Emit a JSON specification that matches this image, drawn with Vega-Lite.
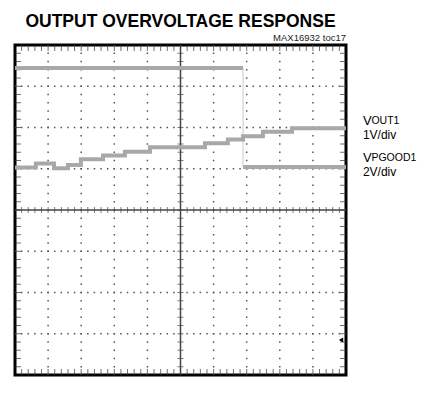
{
  "$schema": "https://vega.github.io/schema/vega-lite/v6.json",
  "width": 331,
  "height": 330,
  "autosize": {"type": "none"},
  "padding": {"left": 15, "top": 45, "right": 98, "bottom": 39},
  "background": "white",
  "config": {"view": {"stroke": "black", "strokeWidth": 3}, "font": "Liberation Sans"},
  "datasets": {
    "xt": [{"v":0.2},{"v":0.4},{"v":0.6},{"v":0.8},{"v":1},{"v":1.2},{"v":1.4},{"v":1.6},{"v":1.8},{"v":2},{"v":2.2},{"v":2.4},{"v":2.6},{"v":2.8},{"v":3},{"v":3.2},{"v":3.4},{"v":3.6},{"v":3.8},{"v":4},{"v":4.2},{"v":4.4},{"v":4.6},{"v":4.8},{"v":5},{"v":5.2},{"v":5.4},{"v":5.6},{"v":5.8},{"v":6},{"v":6.2},{"v":6.4},{"v":6.6},{"v":6.8},{"v":7},{"v":7.2},{"v":7.4},{"v":7.6},{"v":7.8},{"v":8},{"v":8.2},{"v":8.4},{"v":8.6},{"v":8.8},{"v":9},{"v":9.2},{"v":9.4},{"v":9.6},{"v":9.8}],
    "yt": [{"v":-3.8},{"v":-3.6},{"v":-3.4},{"v":-3.2},{"v":-3},{"v":-2.8},{"v":-2.6},{"v":-2.4},{"v":-2.2},{"v":-2},{"v":-1.8},{"v":-1.6},{"v":-1.4},{"v":-1.2},{"v":-1},{"v":-0.8},{"v":-0.6},{"v":-0.4},{"v":-0.2},{"v":0},{"v":0.2},{"v":0.4},{"v":0.6},{"v":0.8},{"v":1},{"v":1.2},{"v":1.4},{"v":1.6},{"v":1.8},{"v":2},{"v":2.2},{"v":2.4},{"v":2.6},{"v":2.8},{"v":3},{"v":3.2},{"v":3.4},{"v":3.6},{"v":3.8}],
    "gx": [{"g":1},{"g":2},{"g":3},{"g":4},{"g":6},{"g":7},{"g":8},{"g":9}],
    "gy": [{"g":-3},{"g":-2},{"g":-1},{"g":1},{"g":2},{"g":3}],
    "pgood": [{"x":0,"x2":6.89,"y":3.44},{"x":6.89,"x2":10,"y":1.04}],
    "vout": [{"t":0,"v":1.03},{"t":0.63,"v":1.13},{"t":1.18,"v":1.01},{"t":1.6,"v":1.09},{"t":1.99,"v":1.23},{"t":2.66,"v":1.32},{"t":3.32,"v":1.41},{"t":4.08,"v":1.52},{"t":5.74,"v":1.62},{"t":6.43,"v":1.71},{"t":6.89,"v":1.79},{"t":7.49,"v":1.9},{"t":8.37,"v":1.98},{"t":10,"v":1.98}]
  },
  "layer": [
    {"data": {"name": "gx"}, "mark": {"type": "rule", "color": "#555", "strokeWidth": 1.5, "strokeDash": [1.5, 6.75], "strokeDashOffset": 0.75},
     "encoding": {"x": {"field": "g", "type": "quantitative", "scale": {"domain": [0, 10], "nice": false, "zero": false}, "axis": null}}},
    {"data": {"name": "gy"}, "mark": {"type": "rule", "color": "#555", "strokeWidth": 1.5, "strokeDash": [1.5, 5.12], "strokeDashOffset": 0.75},
     "encoding": {"y": {"field": "g", "type": "quantitative", "scale": {"domain": [-4, 4], "nice": false, "zero": false}, "axis": null}}},
    {"data": {"values": [{}]}, "mark": {"type": "rule", "color": "#444", "strokeWidth": 1.5},
     "encoding": {"x": {"datum": 5, "type": "quantitative", "scale": {"domain": [0, 10], "nice": false, "zero": false}, "axis": null}}},
    {"data": {"values": [{}]}, "mark": {"type": "rule", "color": "#444", "strokeWidth": 1.5},
     "encoding": {"y": {"datum": 0, "type": "quantitative", "scale": {"domain": [-4, 4], "nice": false, "zero": false}, "axis": null}}},
    {"data": {"name": "xt"}, "mark": {"type": "tick", "orient": "vertical", "size": 6, "thickness": 1, "color": "#444"},
     "encoding": {"x": {"field": "v", "type": "quantitative", "scale": {"domain": [0, 10], "nice": false, "zero": false}, "axis": null},
                  "y": {"datum": 0, "type": "quantitative", "scale": {"domain": [-4, 4], "nice": false, "zero": false}, "axis": null}}},
    {"data": {"name": "yt"}, "mark": {"type": "tick", "orient": "horizontal", "size": 6, "thickness": 1, "color": "#444"},
     "encoding": {"y": {"field": "v", "type": "quantitative", "scale": {"domain": [-4, 4], "nice": false, "zero": false}, "axis": null},
                  "x": {"datum": 5, "type": "quantitative", "scale": {"domain": [0, 10], "nice": false, "zero": false}, "axis": null}}},
    {"data": {"name": "xt"}, "mark": {"type": "tick", "orient": "vertical", "size": 6, "thickness": 1, "color": "#333", "yOffset": -3},
     "encoding": {"x": {"field": "v", "type": "quantitative", "scale": {"domain": [0, 10], "nice": false, "zero": false}, "axis": null},
                  "y": {"datum": -4, "type": "quantitative", "scale": {"domain": [-4, 4], "nice": false, "zero": false}, "axis": null}}},
    {"data": {"name": "xt"}, "mark": {"type": "tick", "orient": "vertical", "size": 6, "thickness": 1, "color": "#333", "yOffset": 3},
     "encoding": {"x": {"field": "v", "type": "quantitative", "scale": {"domain": [0, 10], "nice": false, "zero": false}, "axis": null},
                  "y": {"datum": 4, "type": "quantitative", "scale": {"domain": [-4, 4], "nice": false, "zero": false}, "axis": null}}},
    {"data": {"name": "yt"}, "mark": {"type": "tick", "orient": "horizontal", "size": 6, "thickness": 1, "color": "#333", "xOffset": 3},
     "encoding": {"y": {"field": "v", "type": "quantitative", "scale": {"domain": [-4, 4], "nice": false, "zero": false}, "axis": null},
                  "x": {"datum": 0, "type": "quantitative", "scale": {"domain": [0, 10], "nice": false, "zero": false}, "axis": null}}},
    {"data": {"name": "yt"}, "mark": {"type": "tick", "orient": "horizontal", "size": 6, "thickness": 1, "color": "#333", "xOffset": -3},
     "encoding": {"y": {"field": "v", "type": "quantitative", "scale": {"domain": [-4, 4], "nice": false, "zero": false}, "axis": null},
                  "x": {"datum": 10, "type": "quantitative", "scale": {"domain": [0, 10], "nice": false, "zero": false}, "axis": null}}},
    {"data": {"name": "pgood"}, "mark": {"type": "rule", "color": "#a8a8a8", "strokeWidth": 4},
     "encoding": {"x": {"field": "x", "type": "quantitative", "scale": {"domain": [0, 10], "nice": false, "zero": false}, "axis": null},
                  "x2": {"field": "x2"},
                  "y": {"field": "y", "type": "quantitative", "scale": {"domain": [-4, 4], "nice": false, "zero": false}, "axis": null}}},
    {"data": {"values": [{}]}, "mark": {"type": "rule", "color": "#c8c8c8", "strokeWidth": 1},
     "encoding": {"x": {"datum": 6.89, "type": "quantitative", "scale": {"domain": [0, 10], "nice": false, "zero": false}, "axis": null},
                  "y": {"datum": 1.04, "type": "quantitative", "scale": {"domain": [-4, 4], "nice": false, "zero": false}, "axis": null},
                  "y2": {"datum": 3.44}}},
    {"data": {"name": "vout"}, "mark": {"type": "line", "interpolate": "step-after", "color": "#a8a8a8", "strokeWidth": 4},
     "encoding": {"x": {"field": "t", "type": "quantitative", "scale": {"domain": [0, 10], "nice": false, "zero": false},
                        "axis": {"title": "1s/div", "labels": false, "ticks": false, "domain": false, "grid": false, "titleFontSize": 13, "titleFontWeight": "normal", "titleColor": "black", "titlePadding": 17, "titleFont": "Liberation Sans"}},
                  "y": {"field": "v", "type": "quantitative", "scale": {"domain": [-4, 4], "nice": false, "zero": false}, "axis": null}}},
    {"data": {"values": [{}]}, "mark": {"type": "point", "shape": "triangle-left", "filled": true, "color": "black", "size": 25, "opacity": 1},
     "encoding": {"x": {"datum": 9.85, "type": "quantitative", "scale": {"domain": [0, 10], "nice": false, "zero": false}, "axis": null},
                  "y": {"datum": -3.15, "type": "quantitative", "scale": {"domain": [-4, 4], "nice": false, "zero": false}, "axis": null}}},
    {"data": {"values": [{}]}, "mark": {"type": "text", "text": "OUTPUT OVERVOLTAGE RESPONSE", "align": "center", "baseline": "alphabetic", "dy": -18, "fontSize": 17.5, "fontWeight": "bold", "color": "black"},
     "encoding": {"x": {"datum": 5, "type": "quantitative", "scale": {"domain": [0, 10], "nice": false, "zero": false}, "axis": null},
                  "y": {"datum": 4, "type": "quantitative", "scale": {"domain": [-4, 4], "nice": false, "zero": false}, "axis": null}}},
    {"data": {"values": [{}]}, "mark": {"type": "text", "text": "MAX16932 toc17", "align": "right", "baseline": "alphabetic", "dy": -4, "fontSize": 9.5, "color": "#222"},
     "encoding": {"x": {"datum": 10, "type": "quantitative", "scale": {"domain": [0, 10], "nice": false, "zero": false}, "axis": null},
                  "y": {"datum": 4, "type": "quantitative", "scale": {"domain": [-4, 4], "nice": false, "zero": false}, "axis": null}}},
    {"data": {"values": [{}]}, "mark": {"type": "text", "text": "V", "align": "left", "baseline": "alphabetic", "fontSize": 13, "color": "black"},
     "encoding": {"x": {"datum": 10.51, "type": "quantitative", "scale": {"domain": [0, 10], "nice": false, "zero": false}, "axis": null},
                  "y": {"datum": 2.06, "type": "quantitative", "scale": {"domain": [-4, 4], "nice": false, "zero": false}, "axis": null}}},
    {"data": {"values": [{}]}, "mark": {"type": "text", "text": "OUT1", "align": "left", "baseline": "alphabetic", "fontSize": 10.5, "dx": 8.5, "dy": -1, "color": "black"},
     "encoding": {"x": {"datum": 10.51, "type": "quantitative", "scale": {"domain": [0, 10], "nice": false, "zero": false}, "axis": null},
                  "y": {"datum": 2.06, "type": "quantitative", "scale": {"domain": [-4, 4], "nice": false, "zero": false}, "axis": null}}},
    {"data": {"values": [{}]}, "mark": {"type": "text", "text": "1V/div", "align": "left", "baseline": "alphabetic", "fontSize": 12, "color": "black"},
     "encoding": {"x": {"datum": 10.51, "type": "quantitative", "scale": {"domain": [0, 10], "nice": false, "zero": false}, "axis": null},
                  "y": {"datum": 1.72, "type": "quantitative", "scale": {"domain": [-4, 4], "nice": false, "zero": false}, "axis": null}}},
    {"data": {"values": [{}]}, "mark": {"type": "text", "text": "V", "align": "left", "baseline": "alphabetic", "fontSize": 13, "color": "black"},
     "encoding": {"x": {"datum": 10.51, "type": "quantitative", "scale": {"domain": [0, 10], "nice": false, "zero": false}, "axis": null},
                  "y": {"datum": 1.16, "type": "quantitative", "scale": {"domain": [-4, 4], "nice": false, "zero": false}, "axis": null}}},
    {"data": {"values": [{}]}, "mark": {"type": "text", "text": "PGOOD1", "align": "left", "baseline": "alphabetic", "fontSize": 10.5, "dx": 8.5, "dy": -1, "color": "black"},
     "encoding": {"x": {"datum": 10.51, "type": "quantitative", "scale": {"domain": [0, 10], "nice": false, "zero": false}, "axis": null},
                  "y": {"datum": 1.16, "type": "quantitative", "scale": {"domain": [-4, 4], "nice": false, "zero": false}, "axis": null}}},
    {"data": {"values": [{}]}, "mark": {"type": "text", "text": "2V/div", "align": "left", "baseline": "alphabetic", "fontSize": 12, "color": "black"},
     "encoding": {"x": {"datum": 10.51, "type": "quantitative", "scale": {"domain": [0, 10], "nice": false, "zero": false}, "axis": null},
                  "y": {"datum": 0.82, "type": "quantitative", "scale": {"domain": [-4, 4], "nice": false, "zero": false}, "axis": null}}}
  ]
}
